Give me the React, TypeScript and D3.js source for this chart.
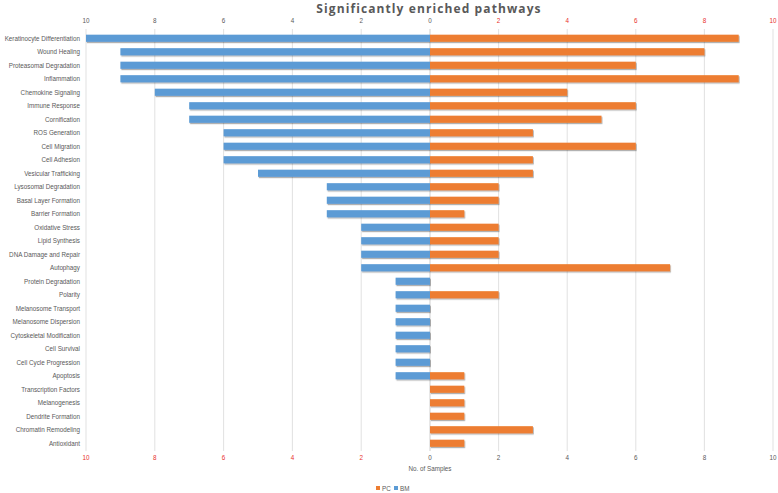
import React from "react";
import * as d3 from "d3";

const categories = [
  "Keratinocyte Differentiation", "Wound Healing", "Proteasomal Degradation", "Inflammation",
  "Chemokine Signaling", "Immune Response", "Cornification", "ROS Generation", "Cell Migration",
  "Cell Adhesion", "Vesicular Trafficking", "Lysosomal Degradation", "Basal Layer Formation",
  "Barrier Formation", "Oxidative Stress", "Lipid Synthesis", "DNA Damage and Repair", "Autophagy",
  "Protein Degradation", "Polarity", "Melanosome Transport", "Melanosome Dispersion",
  "Cytoskeletal Modification", "Cell Survival", "Cell Cycle Progression", "Apoptosis",
  "Transcription Factors", "Melanogenesis", "Dendrite Formation", "Chromatin Remodeling", "Antioxidant",
];
const bmValues = [10, 9, 9, 9, 8, 7, 7, 6, 6, 6, 5, 3, 3, 3, 2, 2, 2, 2, 1, 1, 1, 1, 1, 1, 1, 1, 0, 0, 0, 0, 0];
const pcValues = [9, 8, 6, 9, 4, 6, 5, 3, 6, 3, 3, 2, 2, 1, 2, 2, 2, 7, 0, 2, 0, 0, 0, 0, 0, 1, 1, 1, 1, 3, 1];
const tickValues = [0, 2, 4, 6, 8, 10];
const title = "Significantly enriched pathways";
const axisTitle = "No. of Samples";

const W = 778, H = 493;
const BLUE = "#5b9bd5", ORANGE = "#ed7d31", RED = "#e8302a", GRAY = "#595959";
const FONT = "'Liberation Sans', Arial, sans-serif";
const SX = 0.9;

function T(props: { x: number; y: number; anchor?: string; fill?: string; size?: number; children: React.ReactNode }) {
  const { x, y, anchor = "middle", fill = GRAY, size = 7, children } = props;
  return (
    <text transform={`translate(${x},${y}) scale(${SX},1)`} textAnchor={anchor} fontFamily={FONT} fontSize={size} fill={fill}>
      {children}
    </text>
  );
}

export default function App() {
  const xL = d3.scaleLinear().domain([0, 10]).range([430, 86]);
  const xR = d3.scaleLinear().domain([0, 10]).range([430, 773]);
  const y = d3.scaleBand<string>().domain(categories).range([31.5, 450]).paddingInner(0.47).paddingOuter(0.235);
  const bh = y.bandwidth();
  const gridTop = 29, gridBot = 451;
  return (
    <svg width={W} height={H} style={{ position: "absolute", left: 0, top: 0, background: "#fff" }}>
      <defs>
        <filter id="sh" x="-5%" y="-50%" width="110%" height="220%">
          <feDropShadow dx="0.8" dy="1.2" stdDeviation="0.7" floodColor="#000" floodOpacity="0.35" />
        </filter>
      </defs>
      <text x={429} y={12.5} textAnchor="middle" fontFamily="'Open Sans', sans-serif" fontWeight="bold" fontSize={12} letterSpacing={1.1} fill={GRAY}>{title}</text>
      {tickValues.map((t) => (
        <g key={"g" + t}>
          <line x1={xL(t)} x2={xL(t)} y1={gridTop} y2={gridBot} stroke="#d9d9d9" strokeWidth={0.8} />
          <line x1={xR(t)} x2={xR(t)} y1={gridTop} y2={gridBot} stroke="#d9d9d9" strokeWidth={0.8} />
        </g>
      ))}
      {tickValues.map((t) => (
        <g key={"t" + t}>
          <T x={xL(t)} y={23}>{t}</T>
          {t > 0 && <T x={xR(t)} y={23} fill={RED}>{t}</T>}
          {t > 0 && <T x={xL(t)} y={460} fill={RED}>{t}</T>}
          <T x={xR(t)} y={460}>{t}</T>
        </g>
      ))}
      {categories.map((c, i) => (
        <g key={c}>
          <T x={80} y={(y(c) as number) + bh / 2 + 2.4} anchor="end">{c}</T>
          {bmValues[i] > 0 && (
            <rect x={xL(bmValues[i])} y={y(c)} width={xL(0) - xL(bmValues[i])} height={bh} fill={BLUE} filter="url(#sh)" />
          )}
          {pcValues[i] > 0 && (
            <rect x={xR(0)} y={y(c)} width={xR(pcValues[i]) - xR(0)} height={bh} fill={ORANGE} filter="url(#sh)" />
          )}
        </g>
      ))}
      <T x={430} y={471}>{axisTitle}</T>
      <rect x={376} y={486} width={4} height={4} fill={ORANGE} />
      <T x={382} y={491} anchor="start">PC</T>
      <rect x={394} y={486} width={4} height={4} fill={BLUE} />
      <T x={400} y={491} anchor="start">BM</T>
    </svg>
  );
}
